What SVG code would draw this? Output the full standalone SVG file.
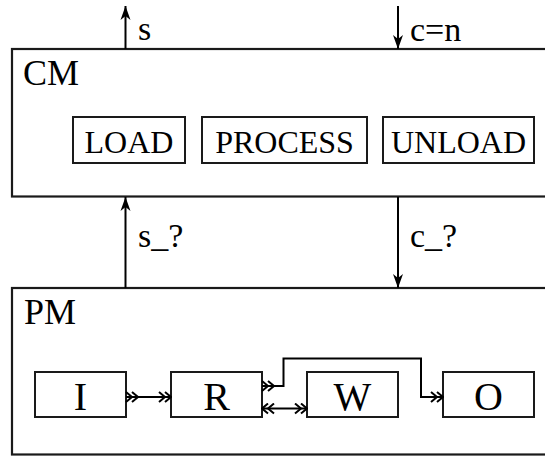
<svg xmlns="http://www.w3.org/2000/svg" width="545" height="456" viewBox="0 0 545 456">
<style>
.box{fill:none;stroke:#1a1a1a;stroke-width:2.2}
.ibox{fill:#fff;stroke:#1a1a1a;stroke-width:2}
.ln{fill:none;stroke:#000;stroke-width:2}
text{font-family:"Liberation Serif","Times New Roman",serif;fill:#000}
.big{font-size:36px}
.lab{font-size:34px}
.st{font-size:32px;text-anchor:middle}
.pt{font-size:40px;text-anchor:middle}
</style>
<defs>
<marker id="ah" markerUnits="userSpaceOnUse" markerWidth="16" markerHeight="12" viewBox="-15 -6 16 12" refX="0" refY="0" orient="auto">
<path d="M0,0 L-14,-5 L-10,0 L-14,5 Z" fill="#000"/>
</marker>
<marker id="dcE" markerUnits="userSpaceOnUse" markerWidth="14" markerHeight="12" viewBox="-1 -6 14 12" refX="12" refY="0" orient="auto">
<path d="M0,-5 L6,0 L0,5 M6,-5 L12,0 L6,5" fill="none" stroke="#000" stroke-width="2"/>
</marker>
<marker id="dcS" markerUnits="userSpaceOnUse" markerWidth="14" markerHeight="12" viewBox="-1 -6 14 12" refX="0" refY="0" orient="auto">
<path d="M0,-5 L6,0 L0,5 M6,-5 L12,0 L6,5" fill="none" stroke="#000" stroke-width="2"/>
</marker>
<marker id="dcR" markerUnits="userSpaceOnUse" markerWidth="14" markerHeight="12" viewBox="-1 -6 14 12" refX="12" refY="0" orient="auto-start-reverse">
<path d="M0,-5 L6,0 L0,5 M6,-5 L12,0 L6,5" fill="none" stroke="#000" stroke-width="2"/>
</marker>
</defs>
<g id="CM">
<rect class="box" x="12" y="49" width="560" height="147.5"/>
<text class="big" x="23" y="85">CM</text>
</g>
<g id="LOAD"><rect class="ibox" x="73" y="117" width="112" height="46"/><text class="st" x="129" y="153">LOAD</text></g>
<g id="PROCESS"><rect class="ibox" x="202" y="117" width="165" height="46"/><text class="st" x="284.5" y="153">PROCESS</text></g>
<g id="UNLOAD"><rect class="ibox" x="383" y="117" width="151" height="46"/><text class="st" x="458.5" y="153">UNLOAD</text></g>
<g id="PM">
<rect class="box" x="12" y="288" width="560" height="166.5"/>
<text class="big" x="24" y="324">PM</text>
</g>
<g id="I"><rect class="ibox" x="35" y="372" width="91" height="45"/><text class="pt" x="80.5" y="410">I</text></g>
<g id="R"><rect class="ibox" x="171" y="372" width="91" height="45"/><text class="pt" x="216.5" y="410">R</text></g>
<g id="W"><rect class="ibox" x="307" y="372" width="91" height="45"/><text class="pt" x="352.5" y="410">W</text></g>
<g id="O"><rect class="ibox" x="443" y="372" width="91" height="45"/><text class="pt" x="488.5" y="410">O</text></g>
<g id="connectors">
<line class="ln" x1="125.5" y1="49" x2="125.5" y2="6" marker-end="url(#ah)"/>
<line class="ln" x1="398" y1="6" x2="398" y2="49" marker-end="url(#ah)"/>
<line class="ln" x1="125.5" y1="288" x2="125.5" y2="197" marker-end="url(#ah)"/>
<line class="ln" x1="398" y1="197" x2="398" y2="288" marker-end="url(#ah)"/>
<line class="ln" x1="126" y1="397" x2="171" y2="397" marker-start="url(#dcS)" marker-end="url(#dcE)"/>
<line class="ln" x1="262" y1="408.5" x2="307" y2="408.5" marker-start="url(#dcR)" marker-end="url(#dcE)"/>
<polyline class="ln" points="262,386 283.5,386 283.5,358.5 421,358.5 421,397 443,397" marker-start="url(#dcS)" marker-end="url(#dcE)"/>
<text class="lab" x="138" y="40">s</text>
<text class="lab" x="410" y="41">c=n</text>
<text class="lab" x="138" y="247">s_?</text>
<text class="lab" x="410" y="247">c_?</text>
</g>
</svg>
